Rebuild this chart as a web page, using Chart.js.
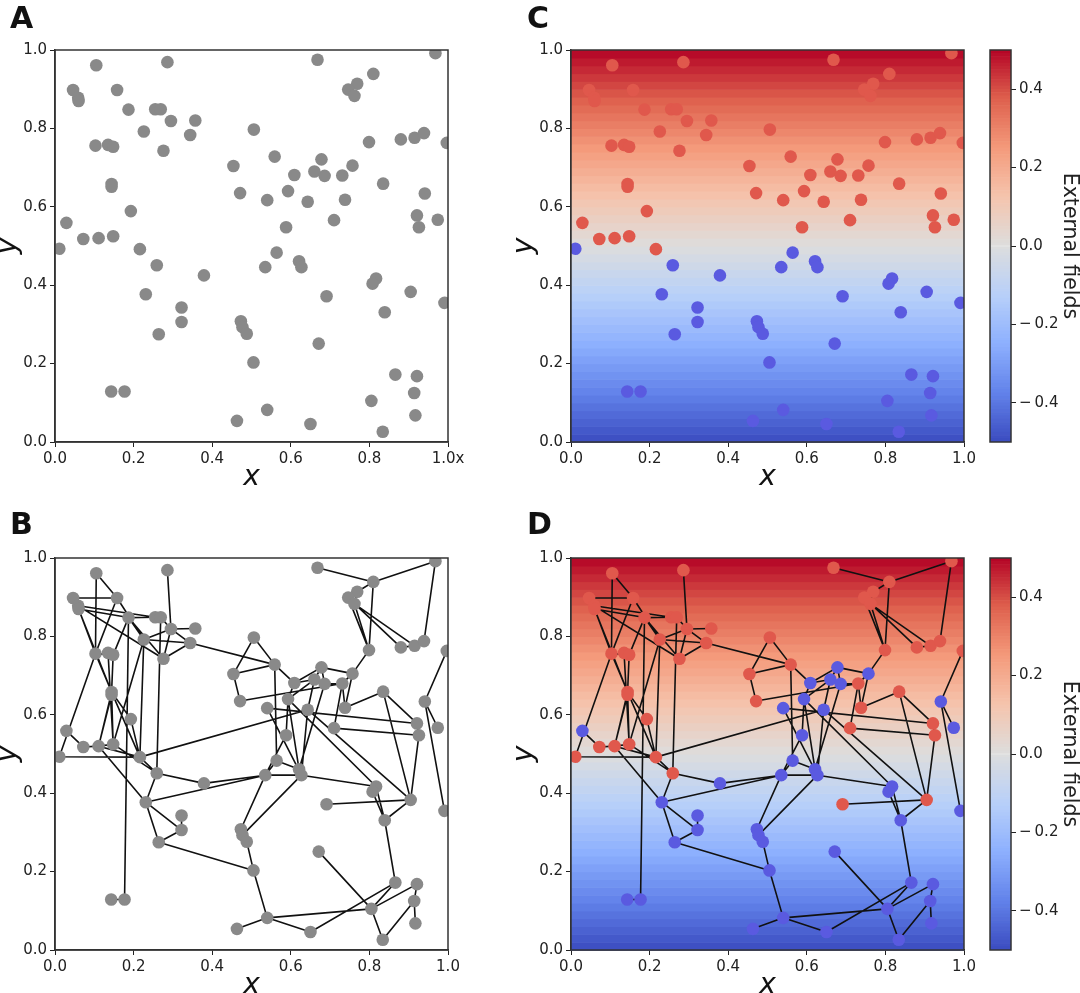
<!DOCTYPE html>
<html>
<head>
<meta charset="utf-8">
<script src="https://cdn.jsdelivr.net/npm/chart.js@4.4.1/dist/chart.umd.min.js"></script>
<style>
  body { margin: 0; width: 1080px; height: 993px; overflow: hidden; background: #fff; position: relative; }
  canvas { position: absolute; }
  .tag { position: absolute; font: bold 30px "DejaVu Sans"; line-height: 30px; color: #111; }
</style>
</head>
<body>
<canvas id="chartA" width="480" height="500" style="left:0;top:0"></canvas>
<canvas id="chartB" width="480" height="500" style="left:0;top:508px"></canvas>
<canvas id="chartC" width="480" height="500" style="left:516px;top:0"></canvas>
<canvas id="chartD" width="480" height="500" style="left:516px;top:508px"></canvas>
<canvas id="barC" width="105" height="500" style="left:975px;top:0"></canvas>
<canvas id="barD" width="105" height="500" style="left:975px;top:508px"></canvas>
<div class="tag" style="left:10px;top:3px">A</div>
<div class="tag" style="left:10px;top:509px">B</div>
<div class="tag" style="left:527px;top:3px">C</div>
<div class="tag" style="left:527px;top:509px">D</div>

<script>
// node positions (same nodes in all four panels)
const nodeX = [
  0.105, 0.286, 0.046, 0.059, 0.060, 0.158, 0.187, 0.255, 0.269, 0.295,
  0.357, 0.226, 0.344, 0.506, 0.103, 0.135, 0.148, 0.276, 0.454, 0.471,
  0.144, 0.144, 0.193, 0.029, 0.072, 0.111, 0.148, 0.011, 0.216, 0.668,
  0.968, 0.810, 0.769, 0.746, 0.762, 0.799, 0.880, 0.915, 0.939, 0.997,
  0.559, 0.678, 0.609, 0.660, 0.686, 0.731, 0.757, 0.835, 0.540, 0.593,
  0.643, 0.738, 0.941, 0.921, 0.926, 0.974, 0.710, 0.588, 0.564, 0.259,
  0.379, 0.231, 0.322, 0.322, 0.264, 0.473, 0.477, 0.488, 0.505, 0.143,
  0.177, 0.463, 0.535, 0.621, 0.627, 0.817, 0.808, 0.691, 0.905, 0.991,
  0.839, 0.671, 0.866, 0.921, 0.914, 0.805, 0.917, 0.540, 0.650, 0.834
];
const nodeY = [
  0.961, 0.969, 0.898, 0.878, 0.870, 0.898, 0.848, 0.849, 0.849, 0.819,
  0.820, 0.792, 0.783, 0.797, 0.756, 0.758, 0.753, 0.743, 0.704, 0.635,
  0.658, 0.651, 0.589, 0.559, 0.518, 0.520, 0.525, 0.493, 0.492, 0.975,
  0.992, 0.939, 0.914, 0.899, 0.883, 0.765, 0.772, 0.776, 0.788, 0.763,
  0.728, 0.721, 0.681, 0.690, 0.679, 0.680, 0.705, 0.659, 0.617, 0.640,
  0.613, 0.618, 0.634, 0.578, 0.548, 0.567, 0.566, 0.548, 0.483, 0.451,
  0.425, 0.377, 0.343, 0.306, 0.275, 0.308, 0.293, 0.276, 0.203, 0.129,
  0.129, 0.054, 0.446, 0.461, 0.446, 0.417, 0.404, 0.372, 0.383, 0.355,
  0.331, 0.251, 0.172, 0.168, 0.125, 0.105, 0.068, 0.082, 0.046, 0.026
];

// node states: +1 red, -1 blue
const spinC = [
  1, 1, 1, 1, 1, 1, 1, 1, 1, 1,
  1, 1, 1, 1, 1, 1, 1, 1, 1, 1,
  1, 1, 1, 1, 1, 1, 1, -1, 1, 1,
  1, 1, 1, 1, 1, 1, 1, 1, 1, 1,
  1, 1, 1, 1, 1, 1, 1, 1, 1, 1,
  1, 1, 1, 1, 1, 1, 1, 1, -1, -1,
  -1, -1, -1, -1, -1, -1, -1, -1, -1, -1,
  -1, -1, -1, -1, -1, -1, -1, -1, -1, -1,
  -1, -1, -1, -1, -1, -1, -1, -1, -1, -1
];
const spinD = [
  1, 1, 1, 1, 1, 1, 1, 1, 1, 1,
  1, 1, 1, 1, 1, 1, 1, 1, 1, 1,
  1, 1, 1, -1, 1, 1, 1, 1, 1, 1,
  1, 1, 1, 1, 1, 1, 1, 1, 1, 1,
  1, -1, -1, -1, -1, 1, -1, 1, -1, -1,
  -1, 1, -1, 1, 1, -1, 1, -1, -1, 1,
  -1, -1, -1, -1, -1, -1, -1, -1, -1, -1,
  -1, -1, -1, -1, -1, -1, -1, 1, 1, -1,
  -1, -1, -1, -1, -1, -1, -1, -1, -1, -1
];

// links between nodes (node numbers start at 1)
const edges = [
  [1, 6], [1, 15], [3, 6], [3, 4], [4, 8], [5, 7], [5, 15], [5, 21], [4, 18], [6, 12],
  [6, 15], [2, 10], [7, 8], [7, 12], [7, 17], [7, 71], [7, 18], [9, 10], [9, 60], [10, 11],
  [10, 12], [10, 13], [10, 18], [12, 13], [12, 29], [12, 27], [13, 18], [13, 41], [15, 17], [15, 21],
  [15, 28], [16, 27], [17, 21], [21, 22], [21, 23], [21, 26], [21, 27], [22, 26], [23, 29], [21, 29],
  [24, 25], [25, 26], [26, 27], [26, 62], [27, 60], [26, 29], [28, 29], [29, 60], [29, 51],
  [14, 19], [14, 41], [19, 41], [19, 20], [20, 46], [41, 43], [41, 59], [42, 43], [42, 44], [42, 45],
  [42, 47], [43, 44], [44, 45], [45, 46], [46, 47], [36, 47], [46, 52], [47, 52], [43, 50], [44, 50],
  [50, 58], [45, 74], [49, 54], [49, 75], [57, 55], [57, 46], [48, 52], [48, 54], [48, 79], [40, 53],
  [53, 56], [53, 80], [55, 79], [54, 55], [50, 76], [51, 79], [51, 75], [50, 74], [58, 73], [59, 73],
  [59, 74], [44, 51],
  [30, 32], [31, 32], [31, 39], [32, 33], [32, 34], [33, 35], [32, 36], [34, 36], [35, 36], [35, 38],
  [34, 37], [37, 38], [38, 39],
  [73, 75], [75, 67], [73, 66], [66, 67], [67, 68], [68, 69], [75, 76], [76, 77], [77, 81], [76, 81],
  [79, 81], [78, 79], [81, 83], [83, 86], [83, 89], [84, 86], [84, 85], [85, 87], [85, 90], [86, 90],
  [86, 88], [88, 89], [88, 69], [88, 72], [82, 86], [65, 69],
  [60, 61], [60, 62], [62, 64], [63, 64], [64, 65], [62, 65], [61, 73], [62, 73], [70, 71]
];

const axisTicks = [0, 0.2, 0.4, 0.6, 0.8, 1.0];
const fieldTicks = [-0.4, -0.2, 0, 0.2, 0.4];
const fieldMin = -0.5;
const fieldMax = 0.5;

const greyNode = '#898989';
const redNode = '#e0584c';
const blueNode = '#5a5ae0';

Chart.defaults.font.family = 'DejaVu Sans';

// coolwarm colormap
const coolwarmStops = [
  [59, 76, 192], [98, 130, 234], [141, 176, 254], [184, 208, 249], [221, 221, 221],
  [245, 196, 173], [244, 154, 123], [222, 96, 77], [180, 4, 38]
];
function coolwarm(t) {
  t = Math.min(1, Math.max(0, t));
  const p = t * (coolwarmStops.length - 1);
  const i = Math.min(Math.floor(p), coolwarmStops.length - 2);
  const f = p - i;
  const a = coolwarmStops[i], b = coolwarmStops[i + 1];
  const c = a.map((v, k) => Math.round(v + (b[k] - v) * f));
  return `rgb(${c[0]},${c[1]},${c[2]})`;
}

const frame = {
  id: 'frame',
  afterDraw(chart) {
    const { ctx, chartArea: a } = chart;
    ctx.save();
    ctx.strokeStyle = '#333';
    ctx.lineWidth = 1.5;
    ctx.strokeRect(a.left, a.top, a.width, a.height);
    ctx.restore();
  }
};

// external field rises with height, drawn as bands behind the nodes
const fieldBackground = {
  id: 'fieldBackground',
  beforeDatasetsDraw(chart) {
    const { ctx, chartArea: a, scales: { y } } = chart;
    const bands = 50;
    ctx.save();
    for (let i = 0; i < bands; i++) {
      const lo = i / bands, hi = (i + 1) / bands;
      const top = y.getPixelForValue(hi);
      const bottom = y.getPixelForValue(lo);
      ctx.fillStyle = coolwarm((lo + hi) / 2);
      ctx.fillRect(a.left, top, a.width, bottom - top + 0.6);
    }
    ctx.restore();
  }
};

function axis(pos, title, lastLabel) {
  const bottom = pos === 'bottom';
  return {
    type: 'linear',
    position: pos,
    min: 0,
    max: 1,
    afterBuildTicks: ax => { ax.ticks = axisTicks.map(v => ({ value: v })); },
    afterFit: ax => { if (bottom) ax.height = 58; else ax.width = 55; },
    grid: { drawOnChartArea: false, drawTicks: true, tickLength: 5, color: '#222', tickWidth: 1 },
    border: { display: true, color: '#333', width: 1.5 },
    ticks: {
      color: '#222',
      font: { size: 15 },
      padding: 3,
      maxRotation: 0,
      autoSkip: false,
      callback: v => (lastLabel && v === 1 ? lastLabel : v.toFixed(1))
    },
    title: {
      display: true,
      text: title,
      color: '#111',
      font: { size: 28, style: 'italic', lineHeight: 1 },
      padding: bottom ? { top: 0, bottom: 8 } : { top: -5, bottom: 0 }
    }
  };
}

function makePanel(id, colors, withEdges, withField, lastLabel) {
  const points = nodeX.map((x, i) => ({ x: x, y: nodeY[i] }));
  const datasets = [{
    data: points,
    pointBackgroundColor: colors,
    pointRadius: 6.3,
    pointHoverRadius: 6.3,
    pointBorderWidth: 0,
    clip: 0
  }];
  if (withEdges) {
    const path = [];
    edges.forEach(([a, b]) => {
      path.push({ x: nodeX[a - 1], y: nodeY[a - 1] });
      path.push({ x: nodeX[b - 1], y: nodeY[b - 1] });
      path.push({ x: null, y: null });
    });
    datasets.push({
      data: path,
      showLine: true,
      spanGaps: false,
      borderColor: '#111',
      borderWidth: 1.6,
      pointRadius: 0,
      pointHoverRadius: 0,
      clip: 0
    });
  }
  const plugins = [frame];
  if (withField) plugins.unshift(fieldBackground);

  new Chart(document.getElementById(id), {
    type: 'scatter',
    data: { datasets: datasets },
    options: {
      responsive: false,
      animation: false,
      events: [],
      layout: { padding: { left: 0, top: 50, right: 32, bottom: 0 } },
      plugins: { legend: { display: false }, tooltip: { enabled: false } },
      scales: {
        x: axis('bottom', 'x', lastLabel),
        y: axis('left', 'y')
      }
    },
    plugins: plugins
  });
}

function makeColorbar(id) {
  const steps = 120;
  const datasets = [];
  for (let i = 0; i < steps; i++) {
    const lo = fieldMin + (fieldMax - fieldMin) * i / steps;
    const hi = fieldMin + (fieldMax - fieldMin) * (i + 1) / steps;
    datasets.push({
      data: [[lo, hi]],
      backgroundColor: coolwarm((i + 0.5) / steps),
      borderWidth: 0,
      grouped: false,
      barPercentage: 1,
      categoryPercentage: 1
    });
  }
  new Chart(document.getElementById(id), {
    type: 'bar',
    data: { labels: [''], datasets: datasets },
    options: {
      responsive: false,
      animation: false,
      events: [],
      layout: { padding: { left: 15, top: 50, right: 0, bottom: 58 } },
      plugins: { legend: { display: false }, tooltip: { enabled: false } },
      scales: {
        x: { display: false },
        y: {
          position: 'right',
          min: fieldMin,
          max: fieldMax,
          afterBuildTicks: ax => { ax.ticks = fieldTicks.map(v => ({ value: v })); },
          afterFit: ax => { ax.width = 69; },
          grid: { drawOnChartArea: false, drawTicks: true, tickLength: 5, color: '#222', tickWidth: 1 },
          border: { display: false },
          ticks: {
            color: '#222',
            font: { size: 15 },
            padding: 3,
            callback: v => (v < -0.001 ? '\u2212\u2009' + Math.abs(v).toFixed(1) : Math.abs(v).toFixed(1))
          },
          title: {
            display: true,
            text: 'External fields',
            color: '#222',
            font: { size: 20.5, lineHeight: 1 },
            padding: { top: 0, bottom: 0 }
          }
        }
      }
    },
    plugins: [frame]
  });
}

const colorsC = spinC.map(s => (s > 0 ? redNode : blueNode));
const colorsD = spinD.map(s => (s > 0 ? redNode : blueNode));

makePanel('chartA', nodeX.map(() => greyNode), false, false, '1.0x');
makePanel('chartB', nodeX.map(() => greyNode), true, false);
makePanel('chartC', colorsC, false, true);
makePanel('chartD', colorsD, true, true);
makeColorbar('barC');
makeColorbar('barD');
</script>
</body>
</html>
